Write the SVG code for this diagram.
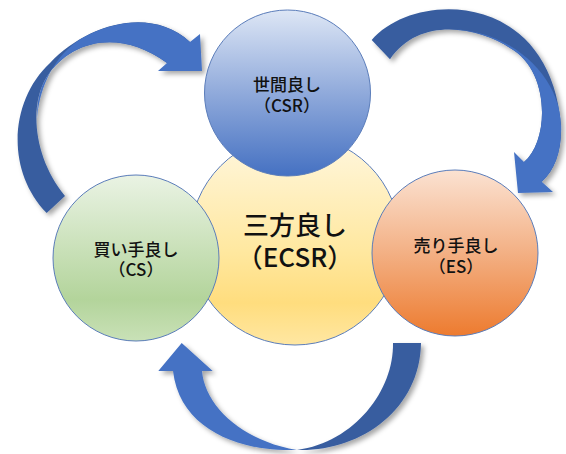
<svg xmlns="http://www.w3.org/2000/svg" width="566" height="454" viewBox="0 0 566 454">
  <defs>
    <linearGradient id="gBlue" x1="0" y1="0" x2="0" y2="1">
      <stop offset="0" stop-color="#DDE6F5"/>
      <stop offset="0.5" stop-color="#90AADB"/>
      <stop offset="1" stop-color="#4571C2"/>
    </linearGradient>
    <linearGradient id="gYellow" x1="0" y1="0" x2="0" y2="1">
      <stop offset="0" stop-color="#FFF7E0"/>
      <stop offset="0.55" stop-color="#FFE8A0"/>
      <stop offset="0.8" stop-color="#FFDD7E"/>
      <stop offset="1" stop-color="#FFE7A2"/>
    </linearGradient>
    <linearGradient id="gGreen" x1="0" y1="0" x2="0" y2="1">
      <stop offset="0" stop-color="#EAF3E4"/>
      <stop offset="0.75" stop-color="#B3D49B"/>
      <stop offset="1" stop-color="#C9E1B7"/>
    </linearGradient>
    <linearGradient id="gOrange" x1="0" y1="0" x2="0" y2="1">
      <stop offset="0" stop-color="#FBE2D2"/>
      <stop offset="0.5" stop-color="#F3B084"/>
      <stop offset="1" stop-color="#ED7B2F"/>
    </linearGradient>
    <filter id="shadow" x="-20%" y="-20%" width="140%" height="140%">
      <feDropShadow dx="3" dy="3" stdDeviation="2.5" flood-color="#000" flood-opacity="0.35"/>
    </filter>
  </defs>
  <style>
    .node { stroke: #5B7DBA; stroke-width: 1; }
    .lbl { font-family: "Noto Sans CJK JP", "Noto Sans", sans-serif; fill: #111; text-anchor: middle; font-size: 17px; font-weight: 500; }
    .big { font-size: 26px; }
    .dark { fill: #385D9F; }
    .light { fill: #4472C4; }
  </style>

  <g id="connectors" filter="url(#shadow)">
    <g id="arrow-cs-to-csr">
      <path class="dark" d="M46.7,213 C5,170 10,100 50,63 C86,25 150,5 190,42 L167,63 C120,28 70,40 46.7,77 C28,107 35,160 65,196 Z"/>
      <path class="light" d="M167,63 L158,71 L202,71 L200,34 L190,42 C160,14.25 116.5,18.6 81.4,38.5 C55,55 40,85 37,118 C37,100 40,88 46.7,77 C70,40 120,28 167,63 Z"/>
    </g>
    <g id="arrow-csr-to-es">
      <path class="dark" d="M371.7,40 C415,-10 550,-10 561,125 C562,150 555,170 541.7,181.7 L524,162 C550,140 550,70 510,48 C480,28 420,15 390,59.3 Z"/>
      <path class="light" d="M524,162 L514,152 L518,193 L553,192 L541.7,181.7 C555,170 562,150 561,125 C560,75 510,30 450,29 C475,30 495,38 510,48 C550,70 550,140 524,162 Z"/>
    </g>
    <g id="arrow-es-to-cs">
      <path class="dark" d="M421,343 L393,343 C394,390 355,442 297,450 C360,452 420,410 421,343 Z"/>
      <path class="light" d="M181.7,343 L212.7,371 L202,371 C205,405 240,440 297,450 C240,452 180,430 173,371 L158.3,371 Z"/>
    </g>
  </g>

  <g id="node-ecsr">
    <circle class="node" cx="295" cy="240" r="105" fill="url(#gYellow)"/>
    <text class="lbl big" x="295" y="235">三方良し</text>
    <text class="lbl big" x="295" y="267">（ECSR）</text>
  </g>
  <g id="node-csr">
    <circle class="node" cx="287.5" cy="93" r="83" fill="url(#gBlue)"/>
    <text class="lbl" x="287" y="90.5">世間良し</text>
    <text class="lbl" x="287" y="112">（CSR）</text>
  </g>
  <g id="node-cs">
    <circle class="node" cx="136" cy="258" r="83" fill="url(#gGreen)"/>
    <text class="lbl" x="136" y="256">買い手良し</text>
    <text class="lbl" x="136" y="276">（CS）</text>
  </g>
  <g id="node-es">
    <circle class="node" cx="455" cy="253" r="83" fill="url(#gOrange)"/>
    <text class="lbl" x="456" y="252">売り手良し</text>
    <text class="lbl" x="456" y="273">（ES）</text>
  </g>
</svg>
